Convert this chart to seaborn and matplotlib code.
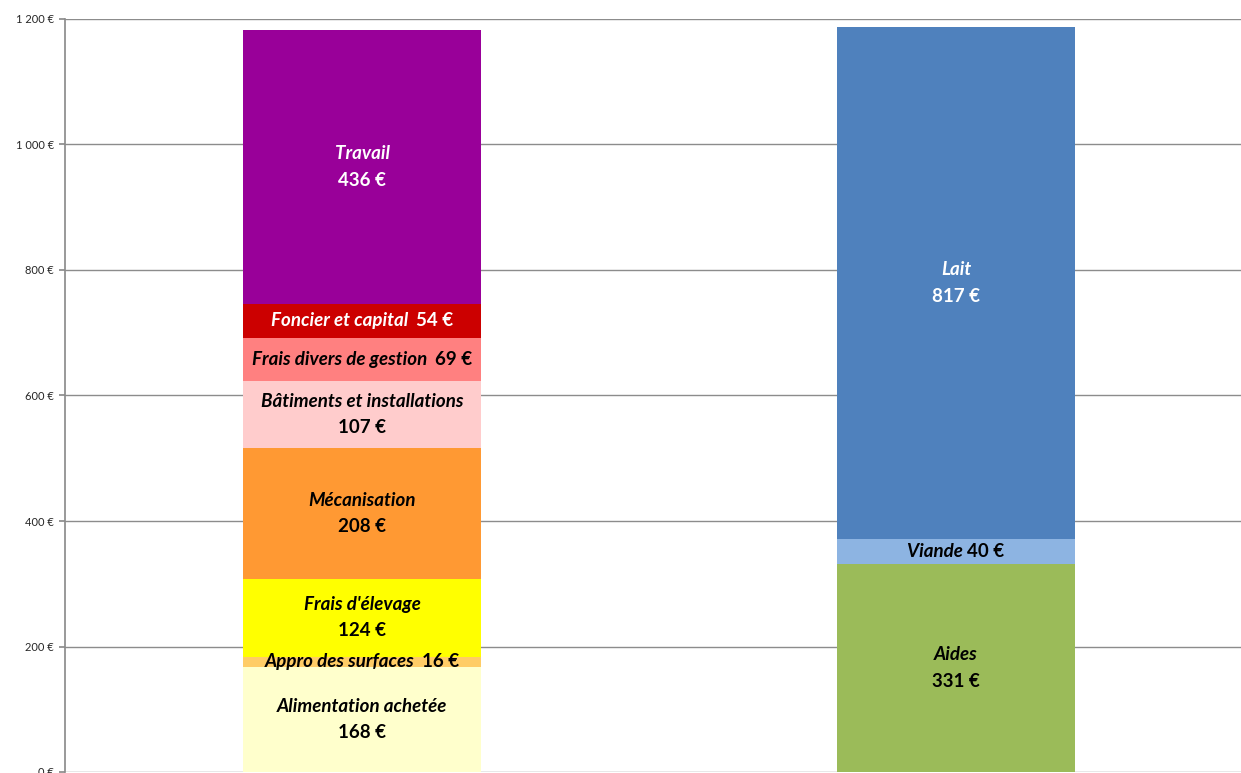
import matplotlib
matplotlib.use("Agg")
import matplotlib.pyplot as plt
import matplotlib.transforms as mtransforms
import numpy as np
import pandas as pd
import seaborn as sns

# data
categories = ["Coûts", "Produits"]
cost_labels = ["Alimentation achetée", "Appro des surfaces", "Frais d'élevage", "Mécanisation",
               "Bâtiments et installations", "Frais divers de gestion", "Foncier et capital", "Travail"]
cost_values = [168, 16, 124, 208, 107, 69, 54, 436]
cost_colors = ["#FFFFCC", "#FFCC66", "#FFFF00", "#FF9933", "#FFCCCC", "#FF8080", "#CC0000", "#990099"]
cost_text = ["black", "black", "black", "black", "black", "black", "white", "white"]
cost_inline = [False, True, False, False, False, True, True, False]

prod_labels = ["Aides", "Viande", "Lait"]
prod_values = [331, 40, 817]
prod_colors = ["#9BBB59", "#8DB4E2", "#4F81BD"]
prod_text = ["black", "black", "white"]
prod_inline = [False, True, False]

y_ticks = [0, 200, 400, 600, 800, 1000, 1200]
y_ticklabels = ["0 €", "200 €", "400 €", "600 €", "800 €", "1 000 €", "1 200 €"]

sns.set_theme(style="white")
plt.rcParams["font.family"] = ["Lato", "DejaVu Sans"]

fig = plt.figure(figsize=(12.41, 7.73), dpi=100)
ax = fig.add_axes([65 / 1241, 1 / 773, 1188 / 1241, 753 / 773])

stacks = [
    (categories[0], cost_labels, cost_values, cost_colors, cost_text, cost_inline),
    (categories[1], prod_labels, prod_values, prod_colors, prod_text, prod_inline),
]

# draw cumulative bars from the top down so lower segments sit on top
for cat, labels, values, colors, _, _ in stacks:
    tops = np.cumsum(values)
    for top, col in reversed(list(zip(tops, colors))):
        df = pd.DataFrame({"cat": [cat], "val": [top]})
        sns.barplot(data=df, x="cat", y="val", order=categories, color=col,
                    width=0.4, saturation=1, linewidth=0, ax=ax, zorder=2)

ax.set_xlim(-0.5, 1.5)
ax.set_ylim(0, 1200)
ax.set_yticks(y_ticks)
ax.set_yticklabels(y_ticklabels, fontsize=8)
ax.set_xticks([])
ax.set_xlabel("")
ax.set_ylabel("")
ax.yaxis.grid(True, color="#8C8C8C", linewidth=1)
ax.set_axisbelow(True)
for s in ["top", "right", "bottom"]:
    ax.spines[s].set_visible(False)
ax.spines["left"].set_color("#8C8C8C")
ax.tick_params(axis="y", left=True, length=4, color="#8C8C8C", pad=4)

fig.canvas.draw()
renderer = fig.canvas.get_renderer()
fs = 13.5
for i, (cat, labels, values, colors, tcols, inline) in enumerate(stacks):
    bottoms = np.cumsum([0] + values[:-1])
    for lab, v, b, tc, inl in zip(labels, values, bottoms, tcols, inline):
        yc = b + v / 2
        val_txt = f"{v} €"
        if inl:
            sep = " " if lab == "Viande" else "  "
            t1 = ax.text(0, 0, lab + sep, fontsize=fs, style="italic", weight="bold", color=tc)
            t2 = ax.text(0, 0, val_txt, fontsize=fs, weight="bold", color=tc)
            w1 = t1.get_window_extent(renderer).width
            w2 = t2.get_window_extent(renderer).width
            total = w1 + w2
            t1.remove()
            t2.remove()
            tr1 = mtransforms.offset_copy(ax.transData, fig=fig, x=-total / 2, y=0, units="dots")
            tr2 = mtransforms.offset_copy(ax.transData, fig=fig, x=-total / 2 + w1, y=0, units="dots")
            ax.text(i, yc, lab + sep, transform=tr1, fontsize=fs, style="italic", weight="bold",
                    color=tc, ha="left", va="center", zorder=5)
            ax.text(i, yc, val_txt, transform=tr2, fontsize=fs, weight="bold",
                    color=tc, ha="left", va="center", zorder=5)
        else:
            ax.annotate(lab, (i, yc), xytext=(0, 9.5), textcoords="offset points", fontsize=fs,
                        style="italic", weight="bold", color=tc, ha="center", va="center", zorder=5)
            ax.annotate(val_txt, (i, yc), xytext=(0, -9.5), textcoords="offset points", fontsize=fs,
                        weight="bold", color=tc, ha="center", va="center", zorder=5)

fig.savefig("out.png", dpi=100)
